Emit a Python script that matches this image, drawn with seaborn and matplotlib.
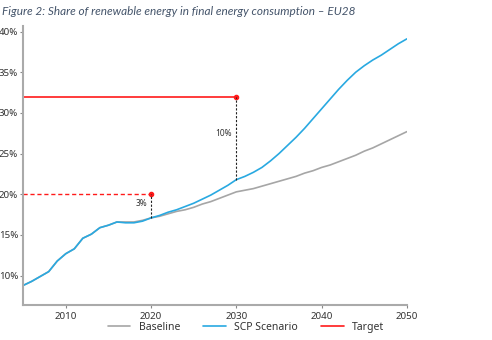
import numpy as np
import pandas as pd
import seaborn as sns
import matplotlib
matplotlib.use("Agg")
import matplotlib.pyplot as plt
from matplotlib.lines import Line2D

years = list(range(2005, 2051))
scp = [8.8, 9.3, 9.9, 10.5, 11.8, 12.7, 13.3, 14.6, 15.1, 15.9, 16.2, 16.6, 16.5, 16.5, 16.7,
       17.1, 17.4, 17.8, 18.1, 18.5, 18.9, 19.4, 19.9, 20.5, 21.1, 21.8, 22.2, 22.7, 23.3, 24.1,
       25.0, 26.0, 27.0, 28.1, 29.3, 30.5, 31.7, 32.9, 34.0, 35.0, 35.8, 36.5, 37.1, 37.8, 38.5, 39.1]
baseline = [8.8, 9.3, 9.9, 10.5, 11.8, 12.7, 13.3, 14.6, 15.1, 15.9, 16.2, 16.6, 16.6, 16.6, 16.8,
            17.1, 17.3, 17.6, 17.9, 18.1, 18.4, 18.8, 19.1, 19.5, 19.9, 20.3, 20.5, 20.7, 21.0, 21.3,
            21.6, 21.9, 22.2, 22.6, 22.9, 23.3, 23.6, 24.0, 24.4, 24.8, 25.3, 25.7, 26.2, 26.7, 27.2, 27.7]
target_years = [2020, 2030]
target_values = [20, 32]
target_labels = ["3%", "10%"]
x_ticks = [2010, 2020, 2030, 2040, 2050]
y_ticks = [10, 15, 20, 25, 30, 35, 40]
y_tick_labels = ["10%", "15%", "20%", "25%", "30%", "35%", "40%"]

df = pd.DataFrame({
    "Year": years * 2,
    "Share": baseline + scp,
    "Series": ["Baseline"] * len(years) + ["SCP Scenario"] * len(years),
})

sns.set_style("ticks")
plt.rcParams["font.family"] = ["Noto Sans", "DejaVu Sans"]

C_GREY = "#a6a6a6"
C_BLUE = "#29a9e1"
C_RED = "#ff1a1a"

fig = plt.figure(figsize=(4.92, 3.40), dpi=100)
ax = fig.add_axes([0.047, 0.103, 0.780, 0.821])

sns.lineplot(data=df, x="Year", y="Share", hue="Series",
             palette={"Baseline": C_GREY, "SCP Scenario": C_BLUE},
             linewidth=1.2, ax=ax, legend=False)

x0 = years[0]
scp_map = dict(zip(years, scp))
# targets
ax.plot([x0, target_years[0]], [target_values[0]] * 2, color=C_RED, lw=1.0, ls=(0, (3, 2)))
ax.plot([x0, target_years[1]], [target_values[1]] * 2, color=C_RED, lw=1.2)
ax.plot(target_years, target_values, "o", color=C_RED, ms=3)
for ty, tv, lab in zip(target_years, target_values, target_labels):
    ax.plot([ty, ty], [scp_map[ty], tv], color="#222222", lw=0.8, ls=(0, (2, 1.5)))
    ax.text(ty - 0.5, (scp_map[ty] + tv) / 2 + (0.3 if ty == 2020 else 0.6), lab,
            ha="right", va="center", fontsize=6, color="#333333")

ax.set_xlim(2005, 2050)
ax.set_ylim(6.4, 40.7)
ax.set_xticks(x_ticks)
ax.set_xticklabels([str(t) for t in x_ticks])
ax.set_yticks(y_ticks)
ax.set_yticklabels(y_tick_labels)
ax.set_xlabel("")
ax.set_ylabel("")
for s in ["top", "right"]:
    ax.spines[s].set_visible(False)
for s in ["left", "bottom"]:
    ax.spines[s].set_color("#aaaaaa")
    ax.spines[s].set_linewidth(1.5)
ax.tick_params(axis="both", labelsize=7, colors="#333333", length=2, width=0.8)
ax.tick_params(axis="y", pad=1.5)
ax.tick_params(axis="x", pad=3)
ax.tick_params(axis="both", color="#888888")

handles = [Line2D([], [], color=C_GREY, lw=1.2),
           Line2D([], [], color=C_BLUE, lw=1.2),
           Line2D([], [], color=C_RED, lw=1.2)]
fig.legend(handles, ["Baseline", "SCP Scenario", "Target"], loc="center",
           bbox_to_anchor=(0.5, 0.038), ncol=3, frameon=False, fontsize=7.5,
           handlelength=2.2, columnspacing=2.2, labelcolor="#333333")

fig.text(0.004, 0.965, "Figure 2: Share of renewable energy in final energy consumption \u2013 EU28",
         fontsize=8.5, style="italic", color="#44546a", family=["Lato", "DejaVu Sans"],
         ha="left", va="center")

fig.savefig("out.png", dpi=100)
